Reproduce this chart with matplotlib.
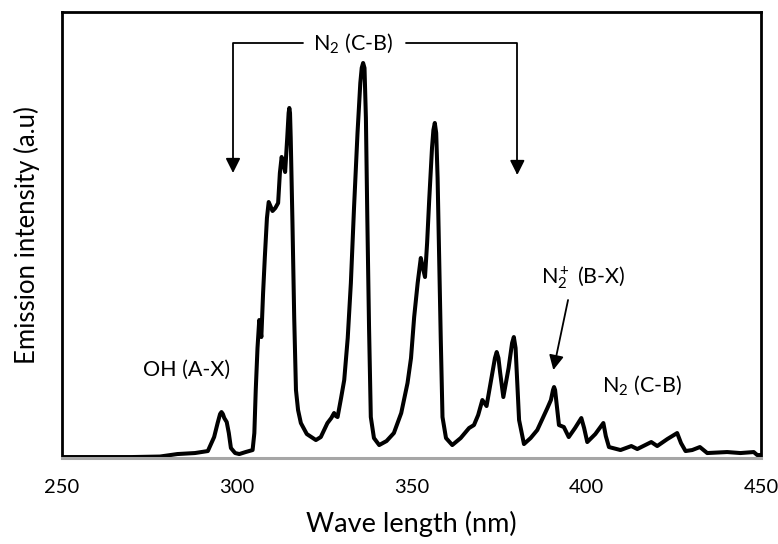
import matplotlib
matplotlib.use("Agg")
import matplotlib.pyplot as plt

# spectrum (wavelength nm, intensity a.u.)
wavelength = [250, 260, 270, 278, 283, 288, 291.7, 293.5, 294.5, 295.2, 295.6, 296.0, 296.4,
              297.1, 297.7, 298.3, 299.5, 300.7, 302.5, 304.5, 305.0, 305.4, 305.9, 306.4,
              307.0, 307.5, 308.0, 308.6, 309.1, 309.6, 310.2, 311.0, 311.8, 312.3, 312.8,
              313.3, 313.8, 314.4, 314.8, 315.0, 315.2, 315.4, 315.9, 316.4, 316.9, 317.5,
              318.3, 320.0, 322.6, 324.0, 325.9, 327.0, 327.8, 328.3, 328.8, 329.8, 330.7,
              331.7, 332.6, 333.5, 334.5, 335.3, 335.7, 336.1, 336.5, 336.9, 337.3, 337.8,
              338.3, 339.2, 340.7, 342.8, 344.9, 347.0, 348.8, 349.8, 350.7, 351.7, 352.6,
              353.2, 353.8, 354.4, 355.0, 355.8, 356.2, 356.6, 357.0, 357.4, 357.8, 358.3,
              358.8, 359.8, 361.6, 364.0, 366.4, 367.8, 369.0, 370.2, 371.4, 372.8, 373.8,
              374.3, 374.8, 375.3, 376.2, 377.7, 378.7, 379.2, 379.7, 380.2, 380.7, 382.1,
              384.0, 385.9, 388.8, 389.8, 390.4, 390.7, 391.0, 391.4, 392.1, 393.5, 394.9,
              396.7, 398.5, 399.3, 400.2, 402.5, 404.8, 405.5, 406.4, 409.7, 412.8, 414.5,
              418.5, 420.2, 423.1, 425.9, 427.0, 428.3, 430.2, 432.4, 434.5, 440.2, 444.0,
              447.8, 448.8, 450]
intensity = [1, 1, 1, 1.5, 4, 5, 7, 21, 35, 44, 46, 44, 40,
             36, 25, 10, 5, 4, 6, 8, 25, 68, 110, 138,
             121, 165, 201, 240, 256, 252, 247, 250, 255, 285, 301,
             295, 286, 320, 345, 350, 345, 320, 235, 140, 68, 48,
             35, 24, 18, 21, 35, 40, 45, 42, 41, 60, 78,
             120, 175, 250, 325, 375, 390, 395, 390, 340, 241, 130,
             41, 20, 13, 17, 25, 45, 75, 100, 141, 175, 200,
             190, 181, 215, 258, 310, 328, 335, 325, 280, 208, 120,
             41, 20, 13, 20, 30, 33, 43, 58, 52, 80, 100,
             106, 100, 85, 61, 90, 115, 121, 110, 75, 38, 14,
             20, 28, 50, 58, 68, 71, 68, 55, 33, 31, 21,
             30, 40, 30, 16, 24, 35, 22, 11, 8, 12, 9,
             16, 12, 19, 25, 15, 7, 8, 11, 5, 6, 5,
             6, 3, 3]

x_ticks = [250, 300, 350, 400, 450]

plt.rcParams['font.family'] = ['Lato', 'DejaVu Sans']
plt.rcParams['mathtext.fontset'] = 'custom'
plt.rcParams['mathtext.rm'] = 'Lato'
plt.rcParams['mathtext.it'] = 'Lato:italic'

fig = plt.figure(figsize=(7.78, 5.44), dpi=100)
ax = fig.add_axes([0.0797, 0.158, 0.899, 0.820])

ax.plot(wavelength, intensity, color='black', lw=2.9, solid_joinstyle='round')

ax.set_xlim(250, 450)
ax.set_ylim(0, 446)
ax.set_xticks(x_ticks)
ax.set_yticks([])
ax.tick_params(axis='x', length=0, pad=15, labelsize=14.5)

for side in ['left', 'right', 'top']:
    ax.spines[side].set_linewidth(2)
    ax.spines[side].set_color('black')
ax.spines['bottom'].set_color('#a6a6a6')
ax.spines['bottom'].set_linewidth(2.2)

ax.set_xlabel('Wave length (nm)', fontsize=19.5, labelpad=11)
ax.set_ylabel('Emission intensity (a.u)', fontsize=18.5, labelpad=16)

arrow = dict(arrowstyle='-|>', color='black', lw=1.3, mutation_scale=22,
             shrinkA=0, shrinkB=0)

# N2 (C-B) bracket on top
ax.text(333.1, 415, r'N$_2$ (C-B)', fontsize=15.5, ha='center', va='center')
ax.annotate('', xy=(298.9, 285), xytext=(319.0, 415),
            arrowprops=dict(arrow, connectionstyle='angle,angleA=180,angleB=90,rad=0'))
ax.annotate('', xy=(380.2, 283), xytext=(348.5, 415),
            arrowprops=dict(arrow, connectionstyle='angle,angleA=0,angleB=90,rad=0'))

# N2+ (B-X)
ax.text(399.1, 180, r'N$_2^+$ (B-X)', fontsize=15.5, ha='center', va='center')
ax.annotate('', xy=(390.5, 88), xytext=(394.7, 158), arrowprops=arrow)

ax.text(415.9, 73, r'N$_2$ (C-B)', fontsize=15.5, ha='center', va='center')
ax.text(285.6, 88, 'OH (A-X)', fontsize=15.5, ha='center', va='center')

fig.savefig('out.png', dpi=100)
